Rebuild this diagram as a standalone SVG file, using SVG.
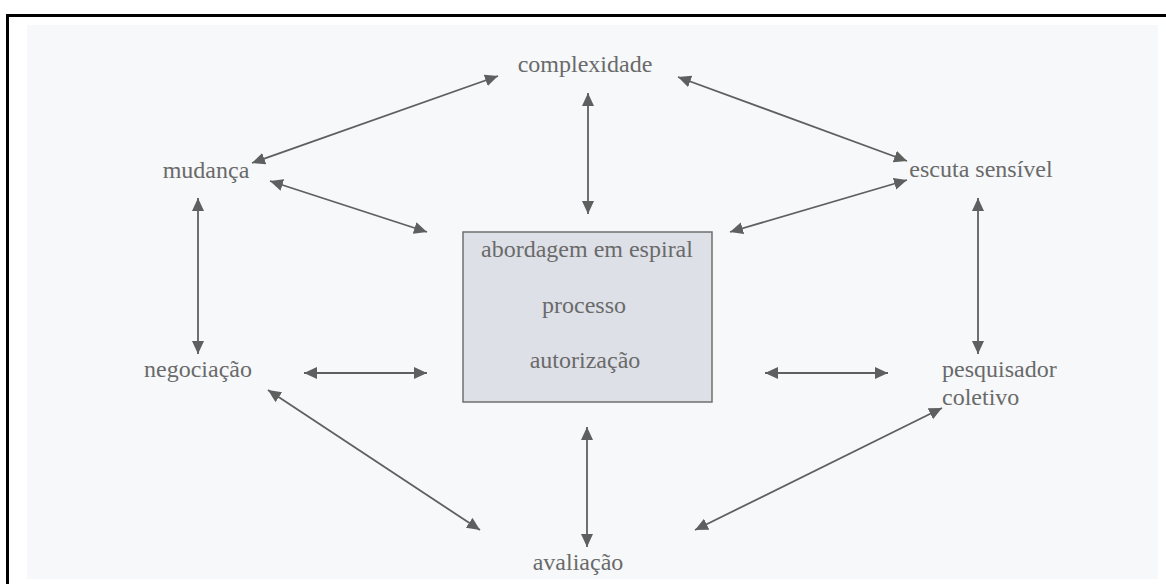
<svg xmlns="http://www.w3.org/2000/svg" width="1166" height="584" viewBox="0 0 1166 584">
<style>
.t{font-family:"Liberation Serif","Times New Roman",serif;font-size:24px;fill:#6a6a6a;text-anchor:middle}
.s{text-anchor:start}
.c line{stroke:#5e605f;stroke-width:1.8;marker-start:url(#ah);marker-end:url(#ah)}
</style>
<defs>
<marker id="ah" markerUnits="userSpaceOnUse" markerWidth="15" markerHeight="13" refX="13" refY="6" orient="auto-start-reverse" viewBox="0 0 15 13">
<path d="M0,0 L13,6 L0,12 z" fill="#5e605f"/>
</marker>
</defs>
<rect width="1166" height="584" fill="#ffffff"/>
<rect x="27" y="25" width="1131" height="554" fill="#f6f8fa"/>
<path d="M7.5,584 V15.5 H1166" fill="none" stroke="#000" stroke-width="3"/>
<g id="centro">
<rect x="463" y="232" width="249" height="170" fill="#dde0e7" stroke="#6e706e" stroke-width="1.5"/>
<text class="t" x="587" y="257">abordagem em espiral</text>
<text class="t" x="584" y="313">processo</text>
<text class="t" x="585" y="368">autorização</text>
</g>
<g id="complexidade"><text class="t" x="585" y="72">complexidade</text></g>
<g id="mudanca"><text class="t" x="206" y="178">mudança</text></g>
<g id="escuta"><text class="t" x="981" y="177">escuta sensível</text></g>
<g id="negociacao"><text class="t" x="198" y="377">negociação</text></g>
<g id="pesquisador"><text class="t s" x="942" y="377">pesquisador</text><text class="t s" x="942" y="405">coletivo</text></g>
<g id="avaliacao"><text class="t" x="578" y="570">avaliação</text></g>
<g class="c" id="connectors">
<line x1="252" y1="163" x2="498" y2="76"/>
<line x1="270" y1="181" x2="427" y2="232"/>
<line x1="588" y1="93" x2="588" y2="214"/>
<line x1="678" y1="77" x2="907" y2="161"/>
<line x1="907" y1="180" x2="730" y2="232"/>
<line x1="978" y1="198" x2="978" y2="354"/>
<line x1="198" y1="198" x2="198" y2="354"/>
<line x1="304" y1="373" x2="427" y2="373"/>
<line x1="765" y1="373" x2="888" y2="373"/>
<line x1="268" y1="390" x2="480" y2="530"/>
<line x1="587" y1="427" x2="587" y2="547"/>
<line x1="942" y1="408" x2="695" y2="530"/>
</g>
</svg>
